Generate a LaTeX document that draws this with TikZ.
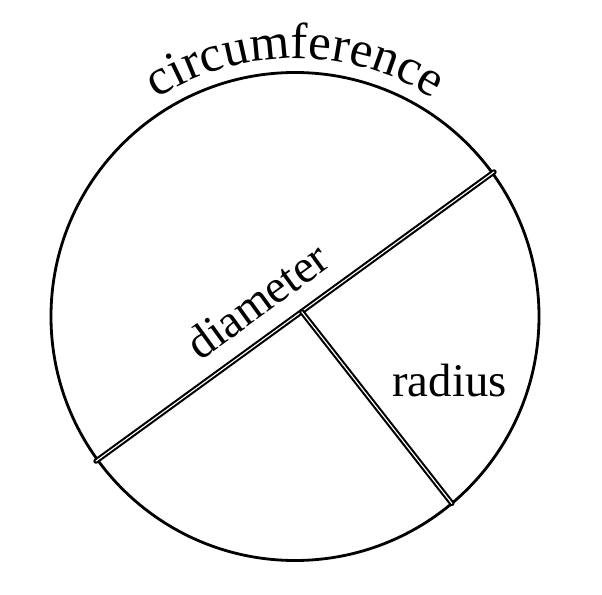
\documentclass[tikz,border=0pt]{standalone}
\usepackage{fontspec}
\setmainfont{Liberation Serif}
\newfontfamily\lblfont{Liberation Serif}
\usepackage{tikz}
\usetikzlibrary{decorations.text}
\newcommand{\lblsize}{\lblfont\fontsize{26.6}{30}\selectfont}
\newcommand{\arcsize}{\lblfont\fontsize{29}{32}\selectfont}
\tikzset{
  rim/.style={draw, line width=1.6pt},
  seg/.style={draw, line width=1.2pt, double=white, double distance=0.65pt, line cap=round},
  lbl/.style={font=\lblsize, inner sep=0pt}}

\begin{document}
\begin{tikzpicture}[x=0.02cm, y=0.02cm]
  \useasboundingbox (-295,-278.5) rectangle (307,316.5);
  \coordinate (c) at (0,0);
  \coordinate (dleft) at (216:246);
  \coordinate (dright) at (36:246);
  \coordinate (rstart) at (6.7,4.8);
  \coordinate (rend) at (-50:244);
  \draw[rim] (c) circle[radius=244];
  % circumference label along the top of the rim
  \path[decorate, decoration={text along path, text align=center,
    text={|\arcsize|circumference}}] (150:258) arc[start angle=150, end angle=30, radius=258];
  \draw[seg] (dleft) -- (dright);
  \draw[seg] (rstart) -- (rend);
  \node[lbl, rotate=36, anchor=base] (diam) at (-28.7,3) {diameter};
  \node[lbl, anchor=base] (rad) at (154.5,-80.2) {radius};
\end{tikzpicture}
\end{document}
